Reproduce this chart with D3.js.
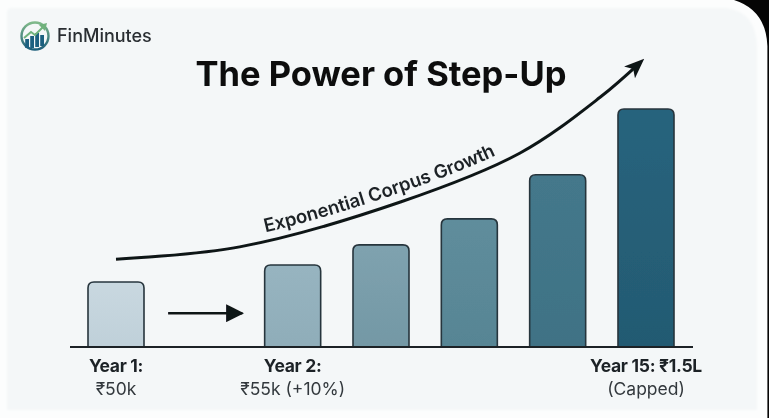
<!DOCTYPE html>
<html>
<head>
<meta charset="utf-8">
<script src="https://cdn.jsdelivr.net/npm/d3@7"></script>
<style>
    html, body { margin: 0; padding: 0; background: #fbfcfc; overflow: hidden; }
    text { font-family: Inter, "Noto Sans", sans-serif; }
</style>
</head>
<body>
<div id="chart"></div>
<script>
// slots on the x axis, one of them has no bar
const slots = ["s1", "gap", "s2", "s3", "s4", "s5", "s6"];
const barSlots = ["s1", "s2", "s3", "s4", "s5", "s6"];
// bar heights, year 1 = 100 (bars are not to scale with the labels)
const barValues = [100, 126, 157, 197, 265, 366];
const barColors = ["#c9d8e0", "#97b4c0", "#7fa2af", "#5f8d9c", "#44788b", "#28647d"];
const barColorsLow = ["#bfd0d9", "#8fadb9", "#7398a5", "#578594", "#3f7285", "#235a72"];

const labelSlots = ["s1", "s2", "s6"];
const labelTop = ["Year 1:", "Year 2:", "Year 15: ₹1.5L"];
const labelBottom = ["₹50k", "₹55k (+10%)", "(Capped)"];

// growth curve in the same units, slot position and value
const curveSlot = [0, 1.4, 3.22, 4.57, 5.48, 5.93];
const curveValue = [135, 154, 223, 298, 384, 437];

// small arrow between year 1 and year 2
const stepArrowSlot = [0.59, 1.43];
const stepArrowValue = [52, 52];

const width = 769;
const height = 418;

const svg = d3.select("#chart").append("svg")
    .attr("width", width)
    .attr("height", height)
    .attr("viewBox", `0 0 ${width} ${height}`)
    .style("display", "block");

const defs = svg.append("defs");

const soften = defs.append("filter").attr("id", "soften");
soften.append("feGaussianBlur").attr("stdDeviation", 0.5);

const softenEdge = defs.append("filter").attr("id", "softenEdge");
softenEdge.append("feGaussianBlur").attr("stdDeviation", 1.2);

barColors.forEach((c, i) => {
    const g = defs.append("linearGradient")
        .attr("id", "bar" + i)
        .attr("x1", 0).attr("y1", 0).attr("x2", 0).attr("y2", 1);
    g.append("stop").attr("offset", "0%").attr("stop-color", c);
    g.append("stop").attr("offset", "100%").attr("stop-color", barColorsLow[i]);
});

defs.append("marker")
    .attr("id", "bigHead")
    .attr("markerUnits", "userSpaceOnUse")
    .attr("viewBox", "0 0 20 20")
    .attr("refX", 14).attr("refY", 10)
    .attr("markerWidth", 20).attr("markerHeight", 20)
    .attr("orient", "auto")
    .append("path")
    .attr("d", "M0,2 L20,10 L0,18 L5,10 Z")
    .attr("fill", "#101417");

defs.append("marker")
    .attr("id", "smallHead")
    .attr("markerUnits", "userSpaceOnUse")
    .attr("viewBox", "0 0 20 20")
    .attr("refX", 18).attr("refY", 10)
    .attr("markerWidth", 18).attr("markerHeight", 18)
    .attr("orient", "auto")
    .append("path")
    .attr("d", "M0,0 L20,10 L0,20 Z")
    .attr("fill", "#101417");

// page background, dark corner at top right
svg.append("rect").attr("width", width).attr("height", height).attr("fill", "#fcfdfd");
svg.append("path")
    .attr("d", "M734,0 H769 V418 H767.4 V46 Q766,10 734,0 Z")
    .attr("fill", "#050505");
svg.append("path")
    .attr("d", "M12,8 H726 Q757,12 757,48 V410 H7 V13 Q7,8 12,8 Z")
    .attr("fill", "#f4f7f8")
    .attr("filter", "url(#softenEdge)");

const root = svg.append("g").attr("filter", "url(#soften)");

const x = d3.scaleBand()
    .domain(slots)
    .range([88, 674])
    .paddingInner(0.366)
    .paddingOuter(0);

const slotX = d3.scaleLinear()
    .domain([0, slots.length - 1])
    .range([x("s1") + x.bandwidth() / 2, x("s6") + x.bandwidth() / 2]);

const y = d3.scaleLinear()
    .domain([0, 366])
    .range([347, 109]);

// bars, only the top corners are round
root.selectAll(".bar")
    .data(barSlots)
    .join("path")
    .attr("class", "bar")
    .attr("d", (d, i) => {
        const p = d3.path();
        const r = 6;
        const x0 = x(d), x1 = x(d) + x.bandwidth(), top = y(barValues[i]), base = y(0);
        p.moveTo(x0, base);
        p.lineTo(x0, top + r);
        p.quadraticCurveTo(x0, top, x0 + r, top);
        p.lineTo(x1 - r, top);
        p.quadraticCurveTo(x1, top, x1, top + r);
        p.lineTo(x1, base);
        return p.toString();
    })
    .attr("fill", (d, i) => `url(#bar${i})`)
    .attr("stroke", "#26343c")
    .attr("stroke-width", 1.6);

// axis with labels below
const axis = root.append("g")
    .attr("transform", `translate(0,${y(0)})`)
    .call(d3.axisBottom(x).tickValues(labelSlots).tickSize(0).tickPadding(0).tickFormat(""));
axis.select(".domain")
    .attr("d", "M70,0 H693")
    .attr("stroke", "#1d2428")
    .attr("stroke-width", 2);

axis.selectAll(".tick text").remove();
axis.selectAll(".tick").each(function (d, i) {
    const t = d3.select(this);
    t.append("text")
        .attr("text-anchor", "middle")
        .attr("y", 25)
        .attr("font-size", 17.5)
        .attr("font-weight", 700)
        .attr("letter-spacing", -0.3)
        .attr("fill", "#1d2226")
        .text(labelTop[i]);
    t.append("text")
        .attr("text-anchor", "middle")
        .attr("y", 48)
        .attr("font-size", 17.5)
        .attr("font-weight", 400)
        .attr("fill", "#33393d")
        .text(labelBottom[i]);
});

// growth curve
const curveLine = d3.line()
    .x(d => slotX(d[0]))
    .y(d => y(d[1]))
    .curve(d3.curveCatmullRom.alpha(0.5));

root.append("path")
    .attr("id", "growthCurve")
    .attr("d", curveLine(d3.zip(curveSlot, curveValue)))
    .attr("fill", "none")
    .attr("stroke", "#101417")
    .attr("stroke-width", 3)
    .attr("marker-end", "url(#bigHead)");

root.append("text")
    .attr("font-size", 18.5)
    .attr("font-weight", 600)
    .attr("fill", "#1d2226")
    .attr("dy", -9)
    .append("textPath")
    .attr("href", "#growthCurve")
    .attr("startOffset", 153)
    .text("Exponential Corpus Growth");

// step arrow
root.append("line")
    .attr("x1", slotX(stepArrowSlot[0]))
    .attr("x2", slotX(stepArrowSlot[1]))
    .attr("y1", y(stepArrowValue[0]))
    .attr("y2", y(stepArrowValue[1]))
    .attr("stroke", "#101417")
    .attr("stroke-width", 2.4)
    .attr("marker-end", "url(#smallHead)");

// title
root.append("text")
    .attr("x", 381)
    .attr("y", 86)
    .attr("text-anchor", "middle")
    .attr("font-size", 34.5)
    .attr("font-weight", 700)
    .attr("fill", "#0c0f11")
    .text("The Power of Step-Up");

// logo
const logo = root.append("g").attr("transform", "translate(35,36)");
const logoGrad = defs.append("linearGradient")
    .attr("id", "logoGrad")
    .attr("x1", 0).attr("y1", 0).attr("x2", 0).attr("y2", 1);
logoGrad.append("stop").attr("offset", "0%").attr("stop-color", "#7fb98a");
logoGrad.append("stop").attr("offset", "100%").attr("stop-color", "#1f5f7a");
logo.append("circle")
    .attr("r", 13.5)
    .attr("fill", "#f4f7f8")
    .attr("stroke", "url(#logoGrad)")
    .attr("stroke-width", 2.4);
[[-8, 3, 9], [-3, 0, 12], [2, -3, 14], [7, -1, 11]].forEach(b => {
    logo.append("rect")
        .attr("x", b[0] - 1.8).attr("y", b[1])
        .attr("width", 3.8).attr("height", b[2])
        .attr("fill", "#1f6080");
});
logo.append("path")
    .attr("d", "M-11,2 L-4,-4 L0,-1 L9,-10")
    .attr("fill", "none")
    .attr("stroke", "#6fb27c")
    .attr("stroke-width", 2);
logo.append("path")
    .attr("d", "M4,-11 L12,-13 L10,-5 Z")
    .attr("fill", "#6fb27c");

root.append("text")
    .attr("x", 57)
    .attr("y", 41.5)
    .attr("font-size", 18)
    .attr("font-weight", 500)
    .attr("fill", "#2a2f33")
    .text("FinMinutes");
</script>
</body>
</html>
